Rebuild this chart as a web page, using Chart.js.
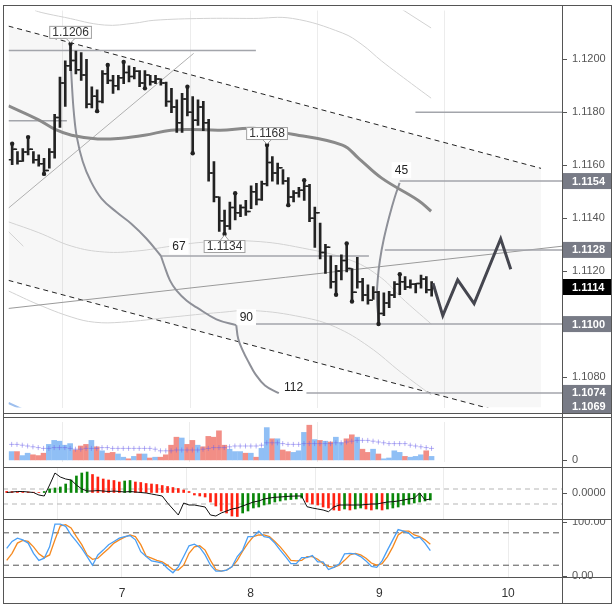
<!DOCTYPE html>
<html>
<head>
<meta charset="utf-8">
<script src="https://cdn.jsdelivr.net/npm/chart.js@4.4.1/dist/chart.umd.min.js"></script>
<style>
body { margin: 0; background: #fff; width: 615px; height: 608px; overflow: hidden; position: relative; }
canvas { position: absolute; left: 3px; }
.ln { position: absolute; background: #555; }
</style>
</head>
<body>
<canvas id="priceChart" width="609" height="408" style="top:5px"></canvas>
<canvas id="volChart" width="609" height="50" style="top:417px"></canvas>
<canvas id="macdChart" width="609" height="52" style="top:467px"></canvas>
<canvas id="stochChart" width="609" height="84" style="top:519px"></canvas>

<div class="ln" style="left:3px;top:5px;width:609px;height:1px"></div>
<div class="ln" style="left:3px;top:603px;width:609px;height:1px"></div>
<div class="ln" style="left:3px;top:5px;width:1px;height:599px"></div>
<div class="ln" style="left:611px;top:5px;width:1px;height:599px"></div>
<div class="ln" style="left:562px;top:5px;width:1px;height:599px"></div>
<div class="ln" style="left:3px;top:413px;width:609px;height:1px"></div>
<div class="ln" style="left:3px;top:417px;width:609px;height:1px"></div>
<div class="ln" style="left:3px;top:467px;width:609px;height:1px"></div>
<div class="ln" style="left:3px;top:519px;width:609px;height:1px"></div>
<div class="ln" style="left:3px;top:577px;width:609px;height:1px"></div>

<script>
// hourly bars, time in hours from day 7 00:00 (bar centres on the half hour)
const firstHour = -21.5;
const xMin = -22.19, xMax = 82.05;
const dayTicks = [0, 24, 48, 72];
const dayLabels = ["7", "8", "9", "10"];

const highs = [1.11681,1.11651,1.11663,1.11706,1.11651,1.11639,1.11626,1.11663,1.11792,1.11933,
  1.11994,1.12058,1.12031,1.12025,1.12000,1.11896,1.11884,1.11957,1.11978,1.11939,
  1.11939,1.11990,1.11975,1.11969,1.11957,1.11957,1.11939,1.11939,1.11926,1.11914,
  1.11890,1.11847,1.11871,1.11896,1.11859,1.11847,1.11841,1.11773,1.11614,1.11480,
  1.11430,1.11461,1.11494,1.11450,1.11467,1.11522,1.11531,1.11540,1.11676,1.11632,
  1.11608,1.11583,1.11553,1.11504,1.11516,1.11543,1.11528,1.11442,1.11381,1.11301,
  1.11258,1.11222,1.11261,1.11304,1.11210,1.11252,1.11173,1.11148,1.11142,1.11124,
  1.11118,1.11124,1.11160,1.11188,1.11179,1.11167,1.11154,1.11185,1.11179,1.11160];
const lows = [1.11602,1.11604,1.11614,1.11639,1.11608,1.11596,1.11567,1.11589,1.11626,1.11743,
  1.11822,1.11957,1.11945,1.11920,1.11816,1.11816,1.11804,1.11835,1.11908,1.11871,
  1.11884,1.11908,1.11914,1.11926,1.11896,1.11890,1.11902,1.11908,1.11902,1.11822,
  1.11798,1.11724,1.11724,1.11786,1.11645,1.11750,1.11730,1.11540,1.11461,1.11350,
  1.11340,1.11357,1.11393,1.11406,1.11410,1.11436,1.11450,1.11467,1.11522,1.11540,
  1.11528,1.11528,1.11449,1.11461,1.11479,1.11467,1.11387,1.11289,1.11246,1.11191,
  1.11136,1.11111,1.11167,1.11197,1.11085,1.11136,1.11087,1.11075,1.11093,1.11000,
  1.11032,1.11062,1.11100,1.11111,1.11130,1.11136,1.11118,1.11136,1.11118,1.11105];
const firstOpen = 1.11620;
const closes = [1.11660,1.11615,1.11650,1.11660,1.11620,1.11605,1.11580,1.11650,1.11780,1.11910,
  1.11975,1.11995,1.11960,1.11940,1.11830,1.11860,1.11840,1.11945,1.11920,1.11900,
  1.11930,1.11950,1.11935,1.11955,1.11910,1.11940,1.11915,1.11925,1.11910,1.11840,
  1.11820,1.11760,1.11850,1.11800,1.11770,1.11820,1.11760,1.11570,1.11480,1.11390,
  1.11370,1.11440,1.11420,1.11440,1.11425,1.11500,1.11470,1.11530,1.11610,1.11570,
  1.11590,1.11540,1.11480,1.11495,1.11505,1.11520,1.11400,1.11420,1.11270,1.11290,
  1.11160,1.11200,1.11240,1.11210,1.11120,1.11160,1.11110,1.11090,1.11120,1.11040,
  1.11080,1.11110,1.11150,1.11160,1.11140,1.11150,1.11153,1.11170,1.11130,1.11140];
const fractalHighs = [0,3,11,18,21,33,42,48,55,63,73];
const fractalLows = [6,16,25,34,40,52,61,64,69];

const volume = [11,11,6,9,7,6,9,20,25,24, 19,21,13,18,20,25,17,12,9,10,
  8,4,2,5,8,8,3,4,4,7, 19,29,28,20,25,19,17,30,29,37,
  19,14,11,11,9,9,4,15,41,27, 27,13,11,10,12,35,44,26,25,24,
  23,29,22,27,32,29,14,10,14,8, 2,3,12,10,5,4,5,7,12,5];
const volUp = [1,0,1,1,0,0,0,1,1,1, 1,1,0,0,0,1,0,1,0,0,
  1,1,0,1,0,1,0,1,0,0, 0,0,1,0,0,1,0,0,0,0,
  0,1,1,1,0,1,0,1,1,0, 1,0,0,1,1,1,0,1,0,1,
  0,1,1,0,0,1,0,0,1,0, 1,1,1,1,0,1,1,1,0,1];
const volAvg = [20,20,19,18,17,16,15,15,16,16, 16,15,14,14,15,15,15,16,16,15,
  15,15,15,15,15,15,15,14,12,12, 12,13,13,13,13,13,14,15,16,16,
  16,17,18,18,18,18,18,19,22,22, 22,21,20,20,20,21,21,21,21,21,
  21,22,22,23,24,25,25,25,24,23, 22,21,21,21,21,19,18,17,16,15];

const macdHist = [1.6,1.4,1.3,1.2,1.0,0.8,0.6, 1.5,4,5,6,9,13,17,20,21,
  18.5,16,14,13,12.5,11,12,12.5, 11,10.5,9.5,9,8.5,7.5,6.5,5.5,4.5,3,1.5,
  -2,-3,-4,-9,-13,-18,-20,-23,-23.5, -20,-18,-15,-14,-12,-11,-9,-8,-7,-6.5,-6,-5,
  -9,-11,-12,-14,-15,-17,-17.5, -16,-17,-16,-15,-16,-17,-16,-17,-16,
  -15,-14,-12,-11,-10,-9,-8,-7];
const macdLine = [0.5,1,1.5,1.5,1,0.5,-2,-3,8,20,16,14,13,
  8,4,2,2,2.5,2,1.5,2,1.5,1,1.5,1,0.5,0,-1,-2,-3,
  -10,-16,-22,-10,-12,-12,-13,-14,-22,-23,-20,-18,-16,-15,
  -13,-11,-9,-8,-6,-5,-4.3,-4,-3.5,-3.2,-3,-3,
  -13.7,-15,-16,-17,-18.7,-14,-12,
  -12,-12,-12,-12,-11.5,-11,-11,-10,-9,-8.7,-8,-7,-6,-5.3,0,-7,-6];
const macdLevels = [4, -11];

const stochK = [51,64,70,67,61,42,29,33,54,96, 96,92,76,64,51,36,20,39,48,58,
  64,70,73,75,67,45,36,28,26,24, 14,6,17,36,56,59,53,39,20,9,
  9,11,17,36,48,73,73,83,73,71, 61,48,36,23,23,34,34,38,26,26,
  12,16,22,41,42,41,36,28,18,16, 28,48,67,86,83,79,70,72,61,47];
const stochD = [29,42,61,66,64,54,41,34,39,67, 93,95,89,73,58,39,31,33,42,51,
  61,67,72,76,73,58,37,33,29,26, 20,12,11,20,42,54,56,48,29,12,
  9,11,17,29,46,61,73,76,76,73, 64,54,42,29,28,29,36,36,31,23,
  18,16,20,29,39,42,39,33,24,20, 23,36,54,76,83,83,76,73,67,59];
const stochLevels = [80, 20];

// drawings on the price pane, [hour, price]
const channelTop = [[-22.19, 1.12125], [78.1, 1.11588]];
const channelBottom = [[-22.19, 1.11165], [78.1, 1.10629]];
const maLine = [[-22.19,1.11824],[-16.6,1.11772],[-13.4,1.11735],[-10.3,1.11713],[-5.4,1.11699],[-0.9,1.11702],
  [3.4,1.11713],[8.4,1.11732],[12.1,1.11735],[17.7,1.11732],[23.9,1.11739],[31.3,1.11717],[40.7,1.11676],
  [43.8,1.11625],[48.1,1.11551],[55.0,1.11467],[57.4,1.11426]];
const bandUpper = [[-17.2,1.12184],[-15.9,1.12176],[-11.6,1.12158],[-4.1,1.12129],[1.5,1.12136],[5.2,1.12147],
  [14.5,1.12154],[23.9,1.12154],[31.3,1.12154],[40.7,1.12099],[44.4,1.12055],[48.1,1.11993],[53.7,1.11908],[57.4,1.11853]];
const bandUpper2 = [[51.8,1.1219],[57.4,1.12118]];
const bandLower = [[-22.19,1.11386],[-16.6,1.11346],[-10.26,1.11294],[-4.1,1.11272],[2.05,1.11276],[8.39,1.11294],
  [14.55,1.11309],[23.87,1.11313],[33.19,1.11287],[42.52,1.11239],[48.11,1.11173],[51.84,1.11099],[57.44,1.11000]];
const bandLower2 = [[-22.19,1.11125],[-16.6,1.11074],[-10.26,1.11026],[-5.97,1.11007],[-0.93,1.11007],[8.39,1.11026],
  [17.72,1.11044],[23.87,1.11051],[33.19,1.11026],[39.35,1.10989],[45.69,1.10915],[51.84,1.10816],[57.44,1.10732]];
const bandStub = [[-22.19,1.11349],[-19.39,1.11294]];
const blueBand = [[-22.19,1.10702],[-19.0,1.10673]];
const riseLine = [[-22.19,1.11438],[12.68,1.12022]];
const longLine = [[-22.19,1.11059],[82.05,1.11294]];
const zigzag = [[57.75,1.11154],[59.6,1.11032],[62.4,1.11167],[65.5,1.11077],[70.5,1.11322],[72.4,1.11207]];
const arcA = [[-10.63,1.12055],[-10.26,1.11908],[-9.88,1.11798],[-9.32,1.11706],[-8.21,1.11614],[-6.71,1.1154],
  [-4.66,1.11474],[-1.86,1.11423],[0.93,1.11379],[3.73,1.11324],[6.53,1.11257]];
const arcB = [[6.53,1.11257],[7.09,1.11224],[8.21,1.11165],[9.51,1.11125],[11.38,1.11088],[13.24,1.11063],[16.97,1.11018],[20.7,1.10996]];
const arcC = [[20.7,1.10996],[21.07,1.10945],[22.0,1.10897],[23.12,1.10853],[24.24,1.10813],[26.11,1.10768],[28.72,1.10739]];
const arcD = [[47.55,1.11007],[47.18,1.11099],[47.37,1.11173],[47.74,1.11239],[48.48,1.1132],[49.6,1.11412],[50.54,1.11478],[51.47,1.11533]];
// horizontal levels: [from hour, to hour, price]
const levels = [[-22.19,24.4,1.12033],[-22.19,-11.2,1.11768],[54.45,82.05,1.1180],[51.47,82.05,1.1154],
  [6.53,45.69,1.11257],[48.67,82.05,1.1128],[22.0,82.05,1.1100],[33.9,82.05,1.1074]];
const arcLabels = [["67",9.9,1.11294],["90",22.6,1.11026],["112",31.5,1.10761],["45",51.8,1.11581]];
const extremes = [[11,"high"],[48,"high"],[40,"low"]];

const priceTicks = [1.108, 1.110, 1.112, 1.114, 1.116, 1.118, 1.120];
const axisMarks = [1.1154, 1.1128, 1.1100, 1.1074, 1.1069];
const priceMin = 1.10685, priceMax = 1.12184;

Chart.defaults.font.family = "'Liberation Sans', Arial, sans-serif";
Chart.defaults.animation = false;
Chart.defaults.events = [];
Chart.defaults.plugins.legend.display = false;
Chart.defaults.plugins.tooltip.enabled = false;

const hours = highs.map((_, i) => firstHour + i);
const opens = closes.map((c, i) => i === 0 ? firstOpen : closes[i - 1]);
const pts = arr => arr.map(([x, y]) => ({x, y}));

function lineDs(data, color, width, extra) {
    return Object.assign({
        type: "line", data: pts(data), borderColor: color, borderWidth: width,
        pointRadius: 0, fill: false, tension: 0, order: 8
    }, extra || {});
}

function xScale(showLabels) {
    return {
        type: "linear", min: xMin, max: xMax, offset: false,
        afterBuildTicks: a => { a.ticks = dayTicks.map(value => ({value})); },
        afterFit: a => {
            a.height = showLabels ? 26 : 0;
            a.paddingLeft = 0; a.paddingRight = 0;
        },
        grid: { color: "#ececec", drawTicks: false },
        border: { display: false },
        ticks: {
            display: showLabels, color: "#333", font: { size: 12 }, padding: 9, maxRotation: 0,
            callback: v => dayLabels[dayTicks.indexOf(v)]
        }
    };
}

function yScale(min, max, ticks, fmt) {
    return {
        position: "right", min, max,
        afterBuildTicks: a => { a.ticks = ticks.map(value => ({value})); },
        afterFit: a => { a.width = 50; a.paddingTop = 0; a.paddingBottom = 0; },
        grid: { drawOnChartArea: false, drawTicks: true, tickLength: 5, tickColor: "#555" },
        border: { display: false },
        ticks: { color: "#555", font: { size: 11 }, padding: 5, callback: fmt }
    };
}

const priceLabels = {
    id: "priceLabels",
    afterDatasetsDraw(chart) {
        const {ctx, scales: {x, y}} = chart;
        ctx.save();
        ctx.font = "12px 'Liberation Sans', Arial";
        ctx.textAlign = "center";
        ctx.textBaseline = "middle";
        arcLabels.forEach(([txt, h, p]) => {
            const px = x.getPixelForValue(h), py = y.getPixelForValue(p);
            const w = ctx.measureText(txt).width + 6;
            ctx.fillStyle = "#fff";
            ctx.fillRect(px - w / 2, py - 8, w, 16);
            ctx.fillStyle = "#222";
            ctx.fillText(txt, px, py);
        });
        extremes.forEach(([i, kind]) => {
            const price = kind === "high" ? highs[i] : lows[i];
            const txt = price.toFixed(4);
            const px = x.getPixelForValue(hours[i]), py = y.getPixelForValue(price);
            const w = ctx.measureText(txt).width + 6, hgt = 13;
            const edge = kind === "high" ? py - 5 : py + 6;
            const top = kind === "high" ? edge - hgt : edge;
            ctx.fillStyle = "#fff";
            ctx.strokeStyle = "#a0a0a0";
            ctx.lineWidth = 1;
            ctx.fillRect(px - w / 2, top, w, hgt);
            ctx.strokeRect(px - w / 2 + 0.5, top + 0.5, w - 1, hgt - 1);
            ctx.beginPath();
            ctx.moveTo(px - 4, edge);
            ctx.lineTo(px, kind === "high" ? py - 1 : py + 1);
            ctx.lineTo(px + 4, edge);
            ctx.fill();
            ctx.stroke();
            ctx.fillStyle = "#333";
            ctx.fillText(txt, px, top + hgt / 2 + 0.5);
        });
        ctx.restore();
    },
    afterDraw(chart) {
        const {ctx, chartArea, scales: {y}} = chart;
        ctx.save();
        ctx.font = "bold 11px 'Liberation Sans', Arial";
        ctx.textBaseline = "middle";
        const boxes = axisMarks.map(v => [v, "#787b86"]).concat([[closes[closes.length - 1], "#000"]]);
        boxes.forEach(([v, col]) => {
            const py = y.getPixelForValue(v);
            ctx.fillStyle = col;
            ctx.fillRect(chartArea.right + 1, py - 8, chart.width - chartArea.right - 1, 16);
            ctx.fillStyle = "#fff";
            ctx.fillText(v.toFixed(4), chartArea.right + 10, py + 0.5);
        });
        ctx.restore();
    }
};

function initCharts() {
    const priceDatasets = [
        lineDs(channelTop, "#222", 1, { borderDash: [5, 4], fill: "+1", backgroundColor: "rgba(0,0,0,0.03)", order: 20 }),
        lineDs(channelBottom, "#222", 1, { borderDash: [5, 4], order: 19 }),
        lineDs(bandUpper, "#d2d2d2", 1, { tension: 0.4, order: 15 }),
        lineDs(bandUpper2, "#d2d2d2", 1, { order: 15 }),
        lineDs(bandLower, "#d2d2d2", 1, { tension: 0.4, order: 15 }),
        lineDs(bandLower2, "#d2d2d2", 1, { tension: 0.4, order: 15 }),
        lineDs(bandStub, "#d2d2d2", 1, { order: 15 }),
        lineDs(blueBand, "#9dbfee", 2, { order: 15 }),
        lineDs(riseLine, "#b0b0b0", 1, { order: 14 }),
        lineDs(longLine, "#9a9a9a", 1, { order: 14 }),
        ...levels.map(([a, b, p]) => lineDs([[a, p], [b, p]], "#a3a5ab", 1.5, { order: 13 })),
        ...[arcA, arcB, arcC, arcD].map(arc => lineDs(arc, "#8e9098", 2, { tension: 0.4, order: 12 })),
        lineDs(maLine, "#8a8a8a", 3, { tension: 0.4, order: 10 }),
        {
            type: "bar", order: 3,
            data: hours.map((h, i) => ({x: h, y: [lows[i], highs[i]]})),
            backgroundColor: "#222", barThickness: 2, grouped: false
        },
        {
            type: "scatter", order: 2,
            data: hours.map((h, i) => ({x: h - 0.37, y: opens[i]})),
            pointStyle: "line", pointRadius: 1.6, borderColor: "#222", pointBorderWidth: 1.5
        },
        {
            type: "scatter", order: 2,
            data: hours.map((h, i) => ({x: h + 0.37, y: closes[i]})),
            pointStyle: "line", pointRadius: 1.6, borderColor: "#222", pointBorderWidth: 1.5
        },
        {
            type: "scatter", order: 1,
            data: fractalHighs.map(i => ({x: hours[i], y: highs[i]})).concat(fractalLows.map(i => ({x: hours[i], y: lows[i]}))),
            pointRadius: 2.2, backgroundColor: "#222", borderWidth: 0
        },
        lineDs(zigzag, "#45464f", 3, { order: 0 })
    ];

    new Chart(document.getElementById("priceChart"), {
        type: "bar",
        data: { datasets: priceDatasets },
        options: {
            responsive: false,
            layout: { padding: 0 },
            scales: {
                x: xScale(false),
                y: yScale(priceMin, priceMax, priceTicks, v => v.toFixed(4))
            }
        },
        plugins: [priceLabels]
    });

    new Chart(document.getElementById("volChart"), {
        type: "bar",
        data: {
            datasets: [
                {
                    type: "scatter", order: 0,
                    data: hours.map((h, i) => ({x: h, y: volAvg[i]})),
                    pointStyle: "cross", pointRadius: 2.5, borderColor: "rgba(110,100,235,0.5)", pointBorderWidth: 1
                },
                {
                    order: 1,
                    data: hours.map((h, i) => ({x: h, y: volume[i]})),
                    backgroundColor: volUp.map(u => u ? "#90bff5" : "#f28e86"),
                    barThickness: 5, grouped: false
                }
            ]
        },
        options: {
            responsive: false,
            layout: { padding: 0 },
            scales: { x: xScale(false), y: yScale(-2, 48, [0], v => String(v)) }
        }
    });

    new Chart(document.getElementById("macdChart"), {
        type: "bar",
        data: {
            datasets: [
                ...macdLevels.map(v => lineDs([[xMin, v], [xMax, v]], "#b5b5b5", 1, { borderDash: [5, 4], order: 5 })),
                {
                    order: 2,
                    data: hours.map((h, i) => ({x: h, y: macdHist[i]})),
                    backgroundColor: macdHist.map((v, i) => i > 0 && v > macdHist[i - 1] ? "#0a870a" : "#ff2212"),
                    barThickness: 2, grouped: false
                },
                {
                    type: "line", order: 1,
                    data: hours.map((h, i) => ({x: h, y: macdLine[i]})),
                    borderColor: "#111", borderWidth: 1, pointRadius: 0
                }
            ]
        },
        options: {
            responsive: false,
            layout: { padding: 0 },
            scales: { x: xScale(false), y: yScale(-26, 26, [0], v => v.toFixed(4)) }
        }
    });

    new Chart(document.getElementById("stochChart"), {
        type: "line",
        data: {
            datasets: [
                ...stochLevels.map(v => lineDs([[xMin, v], [xMax, v]], "#555", 1, { borderDash: [6, 4], order: 5 })),
                {
                    order: 2,
                    data: hours.map((h, i) => ({x: h, y: stochD[i]})),
                    borderColor: "#f5891f", borderWidth: 1.3, pointRadius: 0
                },
                {
                    order: 1,
                    data: hours.map((h, i) => ({x: h, y: stochK[i]})),
                    borderColor: "#4a9ff5", borderWidth: 1.3, pointRadius: 0
                }
            ]
        },
        options: {
            responsive: false,
            layout: { padding: 0 },
            scales: { x: xScale(true), y: yScale(-1.85, 105.6, [0, 100], v => v.toFixed(2)) }
        }
    });
}

window.addEventListener("load", initCharts);
</script>
</body>
</html>
